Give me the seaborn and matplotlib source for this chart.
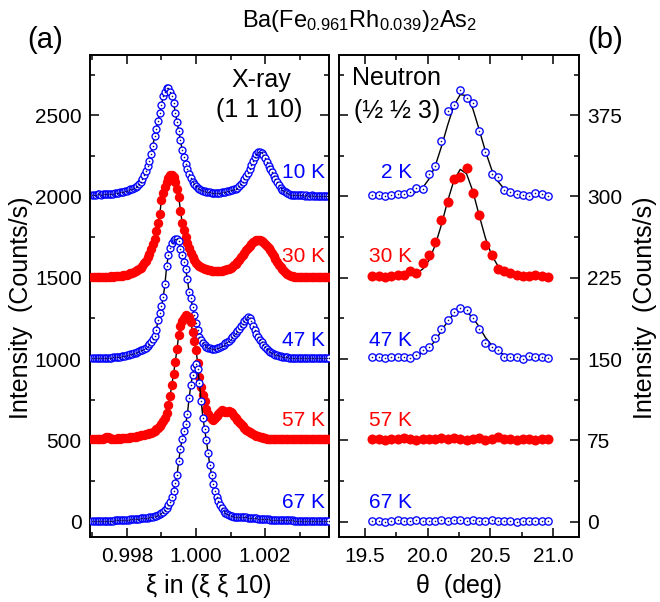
import numpy as np
import pandas as pd
import matplotlib
matplotlib.use("Agg")
import matplotlib.pyplot as plt
import seaborn as sns
from matplotlib.ticker import MultipleLocator, FixedLocator, FixedFormatter

# ---------------- data ----------------
# X-ray scan grid (xi in r.l.u.), 0.00005 steps
xi_first, xi_step, n_xi = 0.99700, 0.00005, 138
xray_temps = ["10 K", "30 K", "47 K", "57 K", "67 K"]
xray_offsets = [2000, 1500, 1000, 500, 0]
# intensities above each curve's offset (counts/s)
xray_10K = [10, 12, 10, 13, 14, 12, 14, 15, 14, 16,
            17, 16, 18, 20, 21, 24, 26, 27, 30, 32,
            35, 38, 43, 48, 53, 60, 66, 74, 88, 108,
            132, 158, 186, 220, 262, 312, 370, 418, 462, 515,
            565, 615, 645, 665, 668, 645, 615, 575, 515, 460,
            405, 345, 285, 245, 200, 168, 140, 112, 92, 76,
            62, 52, 45, 40, 36, 33, 30, 27, 25, 23,
            22, 22, 22, 23, 24, 26, 28, 30, 32, 34,
            37, 40, 44, 48, 55, 65, 78, 92, 108, 124,
            145, 170, 195, 220, 243, 260, 272, 275, 268, 255,
            235, 210, 188, 168, 148, 128, 106, 86, 68, 54,
            42, 33, 26, 20, 15, 12, 10, 9, 8, 8,
            7, 8, 7, 6, 7, 6, 6, 7, 5, 6,
            6, 5, 6, 5, 6, 5, 6, 5]
xray_30K = [4, 3, 5, 4, 6, 4, 5, 6, 5, 7,
            6, 8, 7, 9, 10, 11, 12, 14, 15, 17,
            20, 24, 28, 32, 37, 42, 48, 55, 63, 72,
            88, 106, 126, 148, 175, 205, 240, 290, 338, 392,
            478, 520, 560, 590, 615, 630, 632, 618, 592, 548,
            498, 412, 338, 292, 250, 212, 181, 152, 128, 108,
            92, 80, 71, 64, 59, 55, 51, 48, 46, 44,
            42, 41, 40, 40, 41, 43, 46, 49, 53, 57,
            62, 68, 76, 86, 98, 112, 126, 140, 155, 168,
            182, 196, 208, 219, 227, 232, 234, 233, 228, 220,
            210, 197, 184, 170, 152, 132, 114, 96, 80, 66,
            52, 40, 30, 22, 17, 12, 9, 7, 5, 4,
            3, 4, 3, 2, 4, 3, 2, 3, 4, 3,
            2, 3, 3, 2, 3, 2, 3, 2]
xray_47K = [5, 4, 6, 5, 6, 5, 7, 6, 7, 8,
            8, 9, 10, 11, 12, 14, 15, 17, 19, 21,
            23, 26, 29, 33, 36, 40, 44, 49, 54, 58,
            62, 70, 80, 92, 105, 125, 145, 180, 240, 285,
            325, 380, 460, 570, 640, 685, 715, 732, 740, 739,
            725, 680, 638, 595, 555, 490, 414, 374, 322, 270,
            220, 176, 138, 115, 96, 84, 76, 70, 66, 64,
            63, 64, 66, 70, 76, 82, 89, 96, 104, 113,
            123, 134, 146, 159, 172, 187, 202, 218, 234, 248,
            258, 252, 232, 205, 178, 155, 137, 120, 104, 88,
            74, 62, 52, 44, 38, 33, 28, 24, 20, 17,
            15, 13, 11, 10, 9, 8, 7, 7, 6, 6,
            6, 5, 6, 5, 5, 6, 5, 5, 6, 5,
            5, 6, 5, 5, 6, 5, 5, 6]
xray_57K = [6, 8, 7, 9, 8, 10, 8, 12, 18, 24,
            14, 10, 9, 11, 10, 12, 11, 13, 14, 15,
            16, 17, 18, 20, 21, 23, 25, 28, 31, 34,
            36, 39, 41, 43, 45, 52, 60, 68, 78, 88,
            102, 118, 140, 170, 215, 275, 340, 410, 485, 560,
            650, 705, 735, 755, 770, 768, 760, 730, 669, 612,
            556, 474, 392, 330, 280, 240, 195, 165, 145, 132,
            128, 135, 150, 165, 176, 184, 182, 176, 174, 178,
            176, 166, 152, 140, 126, 112, 100, 88, 76, 66,
            58, 50, 44, 38, 34, 30, 26, 22, 18, 15,
            12, 11, 10, 9, 9, 8, 8, 7, 8, 7,
            7, 6, 7, 7, 6, 7, 6, 7, 6, 7,
            6, 7, 6, 7, 6, 6, 7, 6, 7, 6,
            7, 6, 6, 7, 6, 7, 6, 6]
xray_67K = [4, 5, 4, 6, 5, 5, 6, 5, 6, 7,
            6, 7, 7, 8, 8, 9, 9, 10, 11, 11,
            12, 13, 14, 15, 16, 17, 18, 19, 20, 21,
            22, 23, 25, 27, 29, 31, 34, 37, 41, 46,
            53, 62, 72, 84, 100, 123, 150, 190, 240, 285,
            375, 450, 510, 555, 600, 660, 760, 840, 900, 950,
            968, 940, 850, 740, 640, 570, 500, 420, 350, 290,
            230, 188, 155, 128, 103, 84, 65, 54, 46, 41,
            37, 34, 32, 31, 30, 29, 28, 27, 26, 26,
            25, 24, 23, 22, 21, 20, 19, 18, 17, 16,
            15, 14, 14, 13, 12, 12, 11, 11, 10, 10,
            9, 9, 9, 8, 8, 8, 8, 7, 7, 7,
            7, 7, 6, 7, 6, 6, 7, 6, 6, 6,
            6, 5, 6, 6, 5, 6, 5, 6]
xray_curves = [xray_10K, xray_30K, xray_47K, xray_57K, xray_67K]

# Neutron (1/2 1/2 3) scans, theta in degrees
theta = [19.56, 19.61, 19.66, 19.71, 19.76, 19.81, 19.86, 19.91, 19.96, 20.01,
         20.06, 20.11, 20.16, 20.21, 20.26, 20.31, 20.36, 20.41, 20.46, 20.51,
         20.56, 20.61, 20.66, 20.71, 20.76, 20.81, 20.86, 20.91, 20.96]
neutron_temps = ["2 K", "30 K", "47 K", "57 K", "67 K"]
neutron_2K = [301, 301, 300, 301, 302, 302, 304, 308, 307, 321, 328, 351, 379, 384, 398,
              391, 386, 360, 341, 321, 318, 306, 304, 302, 301, 300, 303, 302, 300]
neutron_30K = [227, 227, 226, 227, 228, 228, 231, 229, 239, 246, 258, 278, 295, 316, 318,
               326, 303, 283, 255, 246, 233, 231, 229, 228, 227, 227, 228, 227, 226]
neutron_47K = [152, 152, 151, 152, 152, 152, 151, 154, 158, 161, 169, 178, 186, 193, 197,
               195, 188, 178, 165, 161, 158, 152, 152, 152, 150, 153, 152, 152, 151]
neutron_57K = [76, 76, 75, 76, 76, 77, 76, 75, 76, 76, 76, 77, 76, 77, 76,
               75, 76, 77, 75, 76, 78, 76, 76, 75, 76, 76, 75, 76, 76]
neutron_67K = [1, 1, 0, 1, 2, 1, 1, 2, 1, 1, 1, 2, 1, 2, 2,
               1, 2, 1, 1, 2, 1, 1, 1, 0, 1, 1, 1, 1, 1]
# fitted curves (black lines) read at the same theta points
fit_2K = [301, 301, 301, 301, 301, 301, 302, 304, 308, 316, 328, 346, 366, 384, 394,
          393, 381, 362, 342, 325, 314, 307, 303, 302, 301, 301, 301, 301, 301]
fit_30K = [227, 227, 227, 227, 227, 227, 228, 229, 233, 241, 255, 274, 296, 315, 325,
           321, 305, 283, 262, 246, 236, 231, 228, 227, 227, 227, 227, 227, 227]
fit_47K = [151, 151, 151, 151, 151, 151, 152, 153, 156, 160, 167, 176, 185, 192, 196,
           194, 188, 180, 170, 163, 157, 154, 152, 151, 151, 151, 151, 151, 151]
neutron_curves = [neutron_2K, neutron_30K, neutron_47K, neutron_57K, neutron_67K]
neutron_fits = [fit_2K, fit_30K, fit_47K, None, None]

for c in xray_curves:
    assert len(c) == n_xi, len(c)
for c in neutron_curves + neutron_fits[:3]:
    assert len(c) == len(theta)

xi = np.round(xi_first + xi_step * np.arange(n_xi), 6)

# ---------------- style ----------------
sns.set_theme(style="ticks")
plt.rcParams["font.family"] = ["Liberation Sans", "DejaVu Sans"]
plt.rcParams["mathtext.fontset"] = "custom"
plt.rcParams["mathtext.rm"] = "Liberation Sans"
plt.rcParams["mathtext.it"] = "Liberation Sans:italic"
plt.rcParams["axes.edgecolor"] = "black"
plt.rcParams["text.color"] = "black"
plt.rcParams["xtick.color"] = "black"
plt.rcParams["ytick.color"] = "black"

BLUE = "#0000FF"
RED = "#FF0000"
DOT = "#10106a"
colors = [BLUE, RED, BLUE, RED, BLUE]
filled = [False, True, False, True, False]

W, H = 660, 602
fig = plt.figure(figsize=(W / 100, H / 100), dpi=100)


def fx(x):
    return x / W


def fy(y):
    return 1 - y / H


axL = fig.add_axes([fx(90), fy(537), 239 / W, 482 / H])
axR = fig.add_axes([fx(339), fy(537), 240 / W, 482 / H])


def draw(ax, x, y, color, full, z, s_open, s_full, fit=None):
    if fit is not None:
        sns.lineplot(x=x, y=fit, ax=ax, color="black", linewidth=1.0,
                     estimator=None, sort=False, zorder=z)
    if full:
        sns.scatterplot(x=x, y=y, ax=ax, marker="o", s=s_full, color=color,
                        linewidth=0, zorder=z + 0.1)
    else:
        sns.scatterplot(x=x, y=y, ax=ax, marker="o", s=s_open, color="white",
                        edgecolor=color, linewidth=0.95, zorder=z + 0.1)
        sns.scatterplot(x=x, y=y, ax=ax, marker="o", s=1.3, color=DOT,
                        linewidth=0, zorder=z + 0.2)


for k, (vals, off) in enumerate(zip(xray_curves, xray_offsets)):
    y = np.array(vals) + off
    draw(axL, xi, y, colors[k], filled[k], 2 + k, 25, 46, fit=y)

for k, vals in enumerate(neutron_curves):
    draw(axR, theta, vals, colors[k], filled[k], 2 + k, 28, 52,
         fit=neutron_fits[k])

# ---------------- axes ----------------
axL.set_xlim(0.99693, 1.003852)
axL.set_ylim(-94, 2870)
axR.set_xlim(19.293, 21.207)
axR.set_ylim(-14.1, 430.5)

axL.xaxis.set_major_locator(FixedLocator([0.998, 1.000, 1.002]))
axL.xaxis.set_major_formatter(FixedFormatter(["0.998", "1.000", "1.002"]))
axL.xaxis.set_minor_locator(FixedLocator([0.997, 0.999, 1.001, 1.003]))
axL.yaxis.set_major_locator(MultipleLocator(500))
axL.yaxis.set_minor_locator(MultipleLocator(250))
axR.xaxis.set_major_locator(MultipleLocator(0.5))
axR.xaxis.set_minor_locator(MultipleLocator(0.25))
axR.yaxis.set_major_locator(MultipleLocator(75))
axR.yaxis.set_minor_locator(MultipleLocator(37.5))

for ax in (axL, axR):
    ax.set_xlabel("")
    ax.set_ylabel("")
    ax.tick_params(which="both", direction="in", top=True, right=True,
                   left=True, bottom=True, width=1.1, labelsize=15, pad=6)
    ax.tick_params(which="major", length=6.5)
    ax.tick_params(which="minor", length=3.8)
    ax.tick_params(axis="x", which="both", pad=7)
    for sp in ax.spines.values():
        sp.set_linewidth(1.4)
        sp.set_visible(True)
    ax.grid(False)

axR.tick_params(axis="y", which="both", labelleft=False, labelright=True)

# ---------------- text ----------------
fig.text(fx(21), fy(308), "Intensity  (Counts/s)", rotation=90,
         ha="center", va="center", fontsize=18)
fig.text(fx(645), fy(308), "Intensity  (Counts/s)", rotation=90,
         ha="center", va="center", fontsize=18)
fig.text(fx(209), fy(586), "ξ in (ξ ξ 10)", ha="center", va="center",
         fontsize=18)
fig.text(fx(459), fy(586), "θ  (deg)", ha="center", va="center", fontsize=18)

fig.text(fx(45), fy(40), "(a)", ha="center", va="center", fontsize=21)
fig.text(fx(605), fy(40), "(b)", ha="center", va="center", fontsize=21)
fig.text(fx(360), fy(21),
         r"Ba(Fe$_{0.961}$Rh$_{0.039}$)$_2$As$_2$",
         ha="center", va="center", fontsize=17)

fig.text(fx(261), fy(80), "X-ray", ha="center", va="center", fontsize=18)
fig.text(fx(259), fy(110), "(1 1 10)", ha="center", va="center", fontsize=18)
fig.text(fx(397), fy(78), "Neutron", ha="center", va="center", fontsize=18)
fig.text(fx(397), fy(111), "(½ ½ 3)", ha="center", va="center", fontsize=18)

label_y = [173, 256, 340, 421, 502]
for k in range(5):
    fig.text(fx(325), fy(label_y[k]), xray_temps[k], color=colors[k],
             ha="right", va="center", fontsize=15)
    fig.text(fx(412), fy(label_y[k]), neutron_temps[k], color=colors[k],
             ha="right", va="center", fontsize=15)

fig.savefig("out.png", dpi=100)
